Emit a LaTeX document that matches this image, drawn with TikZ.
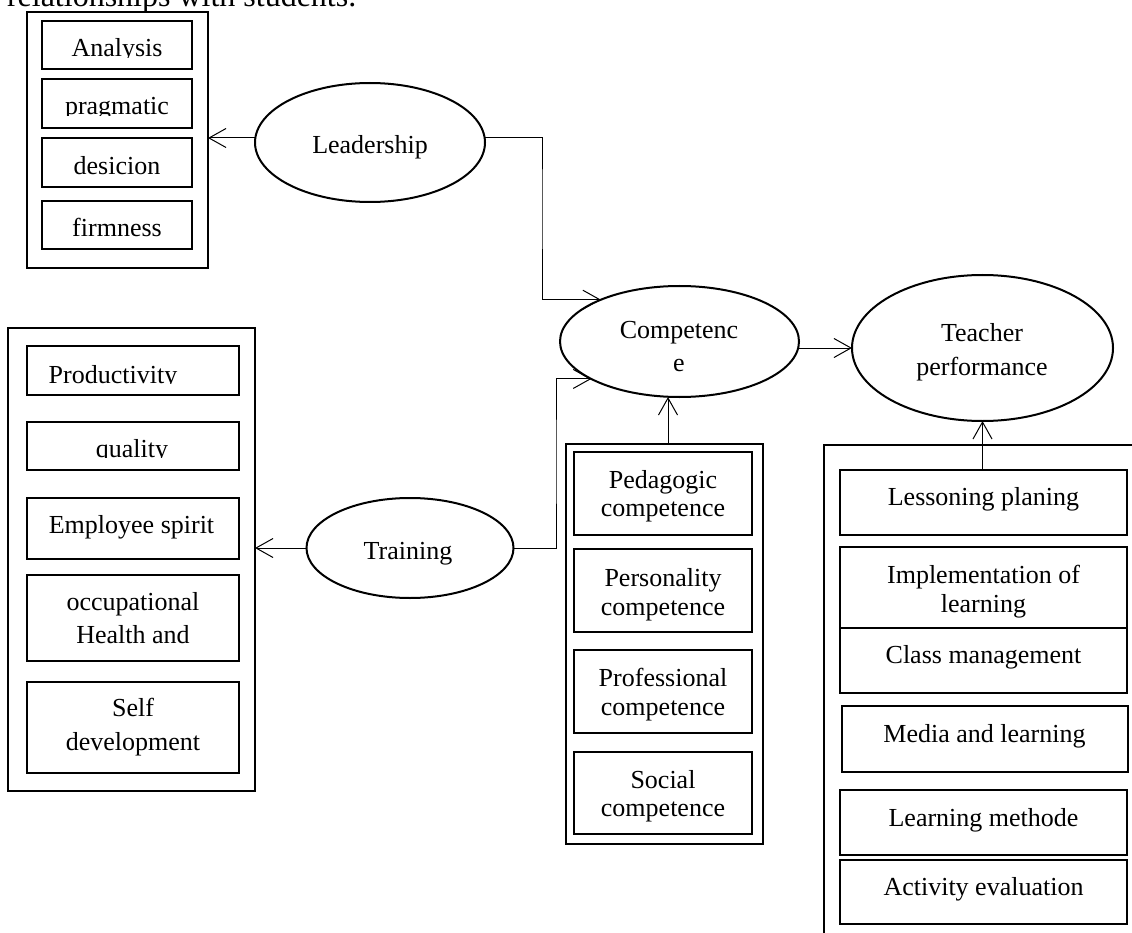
\documentclass[tikz,border=0pt]{standalone}
\usepackage{fontspec}
\setmainfont{Liberation Serif}
\usetikzlibrary{arrows.meta,shapes.geometric}
\newcommand\twol[3]{\vtop{\baselineskip=#1pt\halign{\hfil##\hfil\cr #2\cr #3\cr}}}
\begin{document}
\begin{tikzpicture}[x=1pt,y=-1pt,
  every node/.style={inner sep=0pt, outer sep=0pt},
  txt/.style={anchor=base, font=\fontsize{26}{33}\selectfont},
  grp/.style={draw, line width=2.2pt, anchor=north west},
  bxk/.style={draw, line width=2pt, anchor=north west},
  bxl/.style={draw, line width=1.1pt, anchor=north west},
  ov/.style={draw, ellipse, line width=2pt},
  conn/.style={line width=1pt},
  arr/.style={conn, -{Straight Barb[length=17pt,width=19pt]}}]
\clip (0,0) rectangle (1132,933);

% top text (cut by the page edge)
\node[anchor=base west, font=\fontsize{32}{38}\selectfont] (toptext) at (7,7) {relationships with students.};

% ---------- Leadership group ----------
\node[grp, minimum width=181pt, minimum height=256pt] (lgrp) at (27,12) {};
\node[bxk, minimum width=150pt, minimum height=48pt] (an) at (42,21) {};
\node[bxk, minimum width=150pt, minimum height=49pt] (pr) at (42,79) {};
\node[bxk, minimum width=150pt, minimum height=49pt] (de) at (42,138) {};
\node[bxk, minimum width=150pt, minimum height=48pt] (fi) at (42,201) {};
\begin{scope}\clip (42,21) rectangle (192,58); \node[txt] (anT) at (117,57) {Analysis};\end{scope}
\begin{scope}\clip (42,79) rectangle (192,116); \node[txt] (prT) at (117,115) {pragmatic};\end{scope}
\node[txt] (deT) at (117,175) {desicion};
\node[txt] (fiT) at (117,237) {firmness};

\node[ov, minimum width=230pt, minimum height=119pt] (lead) at (370,142.5) {};
\node[txt] (leadT) at (370,154) {Leadership};

% ---------- Training group ----------
\node[grp, minimum width=247pt, minimum height=463pt] (tgrp) at (8,328) {};
\node[bxk, minimum width=212pt, minimum height=49pt] (prod) at (27,346) {};
\node[bxk, minimum width=212pt, minimum height=48pt] (qual) at (27,422) {};
\node[bxk, minimum width=212pt, minimum height=61pt] (emp) at (27,498) {};
\node[bxk, minimum width=212pt, minimum height=86pt] (occ) at (27,575) {};
\node[bxk, minimum width=212pt, minimum height=91pt] (self) at (27,682) {};
\begin{scope}\clip (27,346) rectangle (239,383.5); \node[txt] (prodT) at (113,383) {Productivity};\end{scope}
\begin{scope}\clip (27,422) rectangle (239,457.5); \node[txt] (qualT) at (132,457) {quality};\end{scope}
\node[txt] (empT) at (131.5,533.3) {Employee spirit};
\node[txt] (occT) at (133,610) {\twol{33.3}{occupational}{Health and}};
\node[txt] (selfT) at (133,716.7) {\twol{34}{Self}{development}};

\node[ov, minimum width=207pt, minimum height=100pt] (train) at (410,548) {};
\node[txt] (trainT) at (408,559) {Training};

% ---------- Competence ----------
\node[ov, minimum width=239pt, minimum height=111pt] (comp) at (679.5,341.5) {};
\node[txt] (compT) at (679,338.5) {\twol{33}{Competenc}{e}};

\node[grp, minimum width=197pt, minimum height=400pt] (cgrp) at (566,444) {};
\node[bxl, minimum width=178pt, minimum height=83pt] (ped) at (574,452) {};
\node[bxl, minimum width=178pt, minimum height=83pt] (pers) at (574,549) {};
\node[bxl, minimum width=178pt, minimum height=83pt] (prof) at (574,650) {};
\node[bxl, minimum width=178pt, minimum height=82pt] (soc) at (574,752) {};
\node[txt] (pedT) at (663,488) {\twol{28.5}{Pedagogic}{competence}};
\node[txt] (persT) at (663,586.7) {\twol{28.5}{Personality}{competence}};
\node[txt] (profT) at (663,686.7) {\twol{28.5}{Professional}{competence}};
\node[txt] (socT) at (663,788.3) {\twol{28.5}{Social}{competence}};

% ---------- Teacher performance ----------
\node[ov, minimum width=261pt, minimum height=146pt] (teach) at (982.5,348) {};
\node[txt] (teachT) at (982,341) {\twol{34}{Teacher}{performance}};

\node[grp, minimum width=330pt, minimum height=520pt] (pgrp) at (824,445) {};
\node[bxl, minimum width=287pt, minimum height=65pt] (lp) at (840,470) {};
\node[bxl, minimum width=287pt, minimum height=81pt] (impl) at (840,547) {};
\node[bxl, minimum width=287pt, minimum height=65pt] (cm) at (840,628) {};
\node[bxl, minimum width=286pt, minimum height=66pt] (media) at (842,706) {};
\node[bxl, minimum width=287pt, minimum height=65pt] (lm) at (840,790) {};
\node[bxl, minimum width=287pt, minimum height=64pt] (ae) at (840,860) {};
\node[txt] (lpT) at (983.5,505) {Lessoning planing};
\node[txt] (implT) at (983.5,583) {\twol{29.7}{Implementation of}{learning}};
\node[txt] (cmT) at (983.5,663.8) {Class management};
\node[txt] (mediaT) at (984.5,742.7) {Media and learning};
\node[txt] (lmT) at (983.5,826) {Learning methode};
\node[txt] (aeT) at (983.5,895) {Activity evaluation};

% ---------- connectors ----------
\coordinate (bA) at (542,200);
\coordinate (bB) at (556,460);
\draw[arr] ([yshift=4.5pt]lead.west) -- ([yshift=4.5pt]lead.west -| lgrp.east);
\draw[arr] ([yshift=4.5pt]lead.east) -| (bA) |- (comp.152);
\draw[arr] (train.west) -- (train.west -| tgrp.east);
\draw[arr] (train.east) -| (bB) |- (comp.203);
\draw[arr] ([xshift=3.5pt]cgrp.north) -- ([xshift=3.5pt]cgrp.north |- comp.south);
\draw[arr] (comp.east |- teach.west) -- (teach.west);
\draw[arr] (teach.south |- lp.north) -- (teach.south);
\end{tikzpicture}
\end{document}
